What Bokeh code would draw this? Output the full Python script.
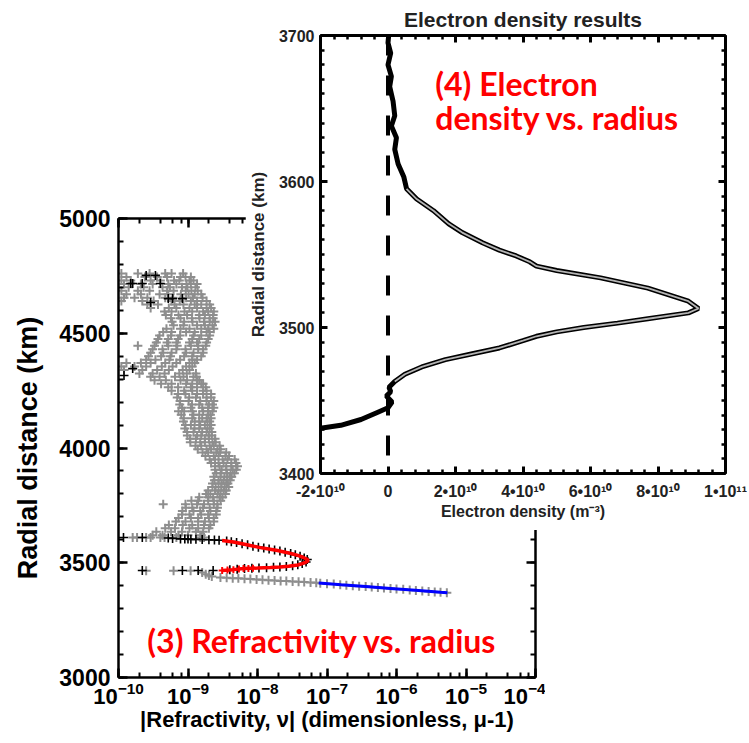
from bokeh.plotting import figure
from bokeh.models import (Range1d, LogAxis, LinearAxis, Label, Span, GridBox,
                          SingleIntervalTicker, LogTicker, CustomJSTickFormatter)
from bokeh.embed import file_html
from bokeh.resources import INLINE

# ---------------- panel (3): |refractivity| vs radius ----------------
# gray "+" cloud : rows of radius (km) and |nu| values (in units of 1e-9)
gray_levels_km = [4760, 4745, 4730, 4715, 4700, 4685, 4670, 4655, 4640, 4625,
                  4610, 4595, 4580, 4565, 4550, 4535, 4520, 4505, 4490, 4475,
                  4460, 4445, 4430, 4415, 4400, 4385, 4370, 4355, 4340, 4325,
                  4310, 4295, 4280, 4265, 4250, 4235, 4220, 4205, 4190, 4175,
                  4160, 4145, 4130, 4115, 4100, 4085, 4070, 4055, 4040, 4025,
                  4010, 3995, 3980, 3965, 3950, 3935, 3920, 3905, 3890, 3875,
                  3860, 3845, 3830, 3815, 3800, 3785, 3770, 3755, 3740, 3725,
                  3710, 3695, 3680, 3665, 3650, 3635, 3620, 3610]
gray_nu_e9 = [
    [0.11, 0.19, 0.28, 0.47, 0.58, 0.85],
    [0.13, 0.24, 0.36, 0.5, 0.78, 0.92, 1.1],
    [0.11, 0.15, 0.29, 0.4, 0.63, 0.75, 1.05, 1.2],
    [0.12, 0.21, 0.31, 0.52, 0.68, 0.95, 1.1, 1.35],
    [0.14, 0.23, 0.43, 0.55, 0.82, 0.98, 1.28],
    [0.11, 0.19, 0.28, 0.5, 0.62, 0.93, 1.12, 1.38],
    [0.13, 0.21, 0.39, 0.52, 0.79, 1.02, 1.25, 1.55],
    [0.12, 0.17, 0.26, 0.47, 0.61, 0.94, 1.18, 1.62],
    [0.11, 0.22, 0.32, 0.58, 0.76, 1.1, 1.35, 1.85],
    [0.26, 0.37, 0.64, 0.86, 1.25, 1.55, 2.05],
    [0.29, 0.53, 0.68, 1.05, 1.35, 1.85, 2.15],
    [0.46, 0.58, 0.89, 1.15, 1.65, 1.95, 2.35],
    [0.48, 0.73, 0.97, 1.45, 1.75, 2.3],
    [0.57, 0.78, 1.14, 1.46, 2.05, 2.3],
    [0.59, 0.88, 1.16, 1.7, 2.05, 2.45],
    [0.62, 0.86, 1.35, 1.75, 2.25],
    [0.49, 0.78, 1.05, 1.55, 1.95, 2.35],
    [0.44, 0.58, 0.94, 1.25, 1.85, 2.05],
    [0.39, 0.57, 0.77, 1.2, 1.55, 2.05],
    [0.37, 0.52, 0.72, 1.15, 1.45, 1.95],
    [0.35, 0.5, 0.68, 1.05, 1.35, 1.85],
    [0.19, 0.33, 0.52, 0.7, 1.1, 1.4, 1.8],
    [0.31, 0.43, 0.68, 0.92, 1.4, 1.65],
    [0.29, 0.44, 0.58, 0.94, 1.2, 1.65],
    [0.27, 0.41, 0.56, 0.88, 1.15, 1.55],
    [0.25, 0.34, 0.54, 0.77, 1.15, 1.35],
    [0.13, 0.21, 0.29, 0.47, 0.68, 1.05, 1.25],
    [0.11, 0.17, 0.25, 0.42, 0.6, 0.94, 1.15],
    [0.12, 0.22, 0.36, 0.53, 0.84, 1.05],
    [0.2, 0.31, 0.46, 0.75, 0.96, 1.3],
    [0.29, 0.39, 0.65, 0.86, 1.2, 1.32],
    [0.33, 0.48, 0.78, 0.97, 1.35, 1.45],
    [0.41, 0.58, 0.94, 1.15, 1.55, 1.65],
    [0.52, 0.72, 1.1, 1.35, 1.8],
    [0.58, 0.88, 1.15, 1.65, 1.85],
    [0.72, 0.92, 1.35, 1.65, 2.15],
    [0.7, 1.04, 1.3, 1.85, 2.15],
    [0.77, 1.02, 1.5, 1.85, 2.35],
    [0.76, 1.14, 1.45, 2.0, 2.25],
    [0.82, 1.1, 1.6, 1.95, 2.35],
    [0.73, 0.88, 1.16, 1.65, 1.95, 2.25],
    [0.8, 1.2, 1.45, 1.95, 2.1],
    [0.87, 1.15, 1.6, 1.85, 2.15],
    [0.86, 1.25, 1.45, 1.9, 2.05],
    [0.92, 1.1, 1.5, 1.75, 2.15],
    [0.9, 1.24, 1.45, 1.9, 2.05],
    [0.97, 1.2, 1.6, 1.85, 2.2],
    [0.98, 1.35, 1.55, 2.0, 2.2],
    [1.07, 1.3, 1.75, 2.0, 2.45],
    [1.08, 1.5, 1.75, 2.25, 2.5],
    [1.28, 1.55, 2.05, 2.35, 2.85],
    [1.38, 1.85, 2.15, 2.65, 2.95],
    [1.62, 1.95, 2.55, 2.9, 3.55],
    [1.78, 2.35, 2.75, 3.45, 3.9],
    [2.05, 2.45, 3.15, 3.7, 4.7],
    [2.15, 2.75, 3.25, 4.2, 4.9],
    [2.45, 2.85, 3.55, 4.2, 5.15],
    [2.45, 3.05, 3.55, 4.4, 4.95],
    [2.55, 2.95, 3.65, 4.1, 4.65],
    [2.35, 2.95, 3.35, 3.95, 4.25],
    [2.4, 2.75, 3.25, 3.65, 4.05],
    [2.25, 2.75, 3.05, 3.55, 3.75],
    [2.25, 2.5, 3.0, 3.35, 3.85],
    [1.95, 2.45, 2.75, 3.25, 3.55],
    [1.82, 2.1, 2.65, 2.95, 3.45],
    [1.45, 1.95, 2.3, 2.85, 3.15],
    [1.12, 1.4, 1.95, 2.35, 2.95],
    [0.44, 0.92, 1.35, 1.7, 2.35, 2.65],
    [0.93, 1.15, 1.65, 2.05, 2.65],
    [0.83, 1.2, 1.5, 2.1, 2.55],
    [0.82, 1.05, 1.55, 1.95, 2.55],
    [0.73, 1.1, 1.4, 2.0, 2.35],
    [0.67, 0.92, 1.4, 1.75, 2.35],
    [0.53, 0.84, 1.15, 1.7, 2.1],
    [0.47, 0.65, 1.05, 1.4, 2.0],
    [0.35, 0.57, 0.82, 1.3, 1.65],
    [0.31, 0.43, 0.73, 1.0, 1.55],
    [0.16, 0.185, 0.25, 0.29, 0.40, 0.46, 0.68, 1.5, 1.7],
]
# gray "+" points on the low, flat branch (below the peak) and under the blue segment
gray_low_nu_e9 = [0.25, 0.62, 1.09, 1.6, 1.8, 2.0, 2.2,
                  2.93, 3.6, 4.4, 5.3, 6.5, 7.9, 9.7, 11.8, 14.4, 17.6, 21.5, 26, 32, 39, 47, 58, 70,
                  80, 100, 125, 155, 190, 235, 290, 360, 440, 540, 660, 820, 1000, 1250, 1550,
                  1900, 2350, 2900, 3550, 4300, 5300]
gray_low_km = [3465, 3465, 3465, 3458, 3450, 3444, 3440,
               3436, 3435, 3433, 3432, 3430, 3429, 3427, 3426, 3424, 3423, 3421, 3420, 3418, 3417, 3416, 3414, 3413,
               3411, 3409, 3407, 3404, 3402, 3400, 3398, 3396, 3394, 3392, 3390, 3388, 3386, 3384, 3381,
               3379, 3377, 3375, 3373, 3371, 3369]
# black "+" points
black_nu_e9 = [0.15, 0.16, 0.22, 0.25, 0.34, 0.40, 0.52, 0.60, 0.83, 0.29, 0.16, 0.12,
               0.118, 0.22, 0.52, 0.6, 0.78, 0.9, 1.0, 1.1, 1.3, 1.6, 2.0, 2.4, 2.8,
               0.22, 0.83, 1.4, 2.3,
               3.6, 4.2, 5.0, 6.0, 7.2, 8.6, 10.3, 12.3, 14.7, 17.6, 21, 25, 30, 35, 41, 47, 52,
               50, 44, 38, 32, 26, 21, 17, 13.5, 10.5, 8.3, 6.5, 5.1, 4.0]
black_km = [4717, 4717, 4717, 4752, 4752, 4717, 4651, 4651, 4651, 4634, 4346, 4316,
            3610, 3610, 3608, 3606, 3604, 3604, 3603, 3602, 3602, 3601, 3600, 3599, 3598,
            3466, 3466, 3466, 3466,
            3595, 3592, 3588, 3583, 3578, 3572, 3568, 3564, 3560, 3556, 3551, 3546, 3540, 3535, 3528, 3521, 3514,
            3503, 3497, 3491, 3487, 3484, 3481, 3480, 3478, 3477, 3476, 3475, 3472, 3469]
# red fitted curve around the peak
red_nu_e9 = [3.1, 4.5, 6.0, 7.9, 11, 14.5, 19.4, 26, 32, 38, 45, 51, 54,
             50, 44, 38, 28, 21, 15.4, 10, 6.3, 4.5, 3.1]
red_km = [3597, 3590, 3583, 3575, 3566, 3560, 3553, 3545, 3538, 3532, 3524, 3516, 3510,
          3503, 3496, 3490, 3485, 3481, 3479, 3477, 3475, 3470, 3466]
red_pts_nu_e9 = [3.1, 3.7, 4.5, 5.4, 6.3, 7.4, 8.6]
red_pts_km = [3466, 3468, 3470, 3473, 3475, 3475, 3476]
# blue fitted segment (ionosphere bottom)
blue_nu_e9 = [76, 160, 360, 820, 1870, 4300, 5400]
blue_km = [3412, 3404, 3396, 3388, 3380, 3371, 3369]

# ---------------- panel (4): electron density vs radius ----------------
ne_m3 = [-2.0e10, -1.4e10, -0.8e10, -0.3e10, 0.0, 0.12e10, -0.05e10, 0.08e10, 0.03e10,
         0.2e10, 0.5e10, 1.0e10, 1.7e10, 2.5e10, 3.3e10, 4.0e10, 4.4e10, 5.0e10, 5.8e10,
         6.8e10, 7.7e10, 8.9e10, 9.2e10, 8.9e10, 7.7e10, 6.3e10, 5.0e10, 4.4e10, 4.2e10,
         3.8e10, 3.3e10, 2.8e10, 2.2e10, 1.8e10, 1.35e10, 0.85e10, 0.55e10, 0.47e10, 0.3e10,
         0.2e10, 0.25e10, 0.1e10, 0.2e10, 0.15e10, 0.05e10, 0.1e10, 0.0, 0.08e10, 0.0, 0.02e10]
ne_km = [3431, 3433, 3437, 3442, 3445, 3449, 3453, 3456, 3459,
         3463, 3468, 3473, 3478, 3482, 3486, 3491, 3494, 3497, 3500,
         3503, 3506, 3510, 3513, 3518, 3527, 3534, 3539, 3542, 3545,
         3549, 3553, 3558, 3565, 3571, 3580, 3588, 3595, 3603, 3612,
         3622, 3630, 3638, 3645, 3655, 3665, 3672, 3680, 3688, 3695, 3700]
ne_ticks = [-2e10, 0, 2e10, 4e10, 6e10, 8e10, 1e11]
ne_tick_labels = ["-2•10¹⁰", "0", "2•10¹⁰", "4•10¹⁰", "6•10¹⁰", "8•10¹⁰", "1•10¹¹"]

AX_FONT = "Liberation Sans"
RED_FONT = "Lato"
BLANK = CustomJSTickFormatter(code="return ''")


def style_axis(ax, lw, tick_in, minor_in, size, label_size=None):
    ax.axis_line_width = lw
    ax.major_tick_line_width = lw
    ax.minor_tick_line_width = max(lw - 0.5, 1)
    ax.major_tick_in = tick_in
    ax.major_tick_out = 0
    ax.minor_tick_in = minor_in
    ax.minor_tick_out = 0
    ax.major_label_text_font = AX_FONT
    ax.major_label_text_font_style = "bold"
    ax.major_label_text_font_size = size
    ax.major_label_text_color = "black"
    ax.axis_label_text_font = AX_FONT
    ax.axis_label_text_font_style = "bold"
    ax.axis_label_text_color = "black"
    if label_size:
        ax.axis_label_text_font_size = label_size


# ---------- back figure (3) ----------
p = figure(width=545, height=537, x_axis_type="log",
           x_range=Range1d(1e-10, 1e-4), y_range=Range1d(3000, 5000),
           output_backend="svg", toolbar_location=None,
           min_border_left=118, min_border_right=10, min_border_top=13, min_border_bottom=65)
p.xgrid.visible = False
p.ygrid.visible = False
p.outline_line_color = None
p.xaxis.ticker = LogTicker(desired_num_ticks=7)
p.yaxis.ticker = SingleIntervalTicker(interval=500, num_minor_ticks=5)
style_axis(p.xaxis[0], 2.5, 9, 5, "22px", "22px")
style_axis(p.yaxis[0], 2.5, 9, 5, "23px", "27px")
p.xaxis.major_label_standoff = 4
p.yaxis.major_label_standoff = 8
p.xaxis.axis_label = "|Refractivity, ν| (dimensionless, μ-1)"
p.yaxis.axis_label = "Radial distance (km)"
p.xaxis.axis_label_standoff = 0
p.yaxis.axis_label_standoff = 13
top = LogAxis(ticker=LogTicker(desired_num_ticks=7), formatter=BLANK)
style_axis(top, 2.5, 9, 5, "10px")
top.major_label_standoff = 0
p.add_layout(top, "above")
rgt = LinearAxis(ticker=SingleIntervalTicker(interval=500, num_minor_ticks=5), formatter=BLANK)
style_axis(rgt, 2.5, 9, 5, "10px")
rgt.major_label_standoff = 0
p.add_layout(rgt, "right")

gx, gy = [], []
for lev, row in zip(gray_levels_km, gray_nu_e9):
    for v in row:
        gx.append(v * 1e-9)
        gy.append(lev)
p.scatter(gx, gy, marker="cross", size=9, line_color="#8e8e8e", line_width=2)
p.scatter([v * 1e-9 for v in gray_low_nu_e9], gray_low_km, marker="cross", size=9,
          line_color="#8e8e8e", line_width=2)
p.scatter([v * 1e-9 for v in black_nu_e9], black_km, marker="cross", size=9,
          line_color="black", line_width=1.6)
p.line([v * 1e-9 for v in red_nu_e9], red_km, line_color="red", line_width=3.5)
p.scatter([v * 1e-9 for v in red_pts_nu_e9], red_pts_km, marker="cross", size=7,
          line_color="red", line_width=2)
p.line([v * 1e-9 for v in blue_nu_e9], blue_km, line_color="blue", line_width=3)

p.add_layout(Label(x=2.6e-10, y=3161, text="(3) Refractivity vs. radius",
                   text_font=RED_FONT, text_font_style="bold", text_font_size="32px",
                   text_color="red", text_baseline="middle"))

# ---------- inset figure (4) ----------
q = figure(width=503, height=530, x_range=Range1d(-2e10, 1e11), y_range=Range1d(3400, 3700),
           output_backend="svg", toolbar_location=None,
           min_border_left=73, min_border_right=23, min_border_top=33, min_border_bottom=57,
           title="Electron density results")
q.title.align = "center"
q.title.text_font = AX_FONT
q.title.text_font_style = "bold"
q.title.text_font_size = "21px"
q.title.text_color = "#222222"
q.xgrid.visible = False
q.ygrid.visible = False
q.outline_line_color = None
q.xaxis.ticker = SingleIntervalTicker(interval=2e10, num_minor_ticks=5)
q.xaxis.formatter = CustomJSTickFormatter(
    args=dict(vals=ne_ticks, labs=ne_tick_labels),
    code="const i = vals.findIndex(v => Math.abs(v - tick) < 1e6); return i >= 0 ? labs[i] : '';")
q.yaxis.ticker = SingleIntervalTicker(interval=100, num_minor_ticks=10)
style_axis(q.xaxis[0], 3, 7, 4, "16px", "16px")
style_axis(q.yaxis[0], 3, 7, 4, "16px", "17px")
q.xaxis.major_label_text_color = "#222222"
q.yaxis.major_label_text_color = "#222222"
q.xaxis.axis_label_text_color = "#222222"
q.yaxis.axis_label_text_color = "#222222"
q.xaxis.axis_label = "Electron density (m⁻³)"
q.yaxis.axis_label = "Radial distance (km)"
q.xaxis.major_label_standoff = 9
q.yaxis.major_label_standoff = 6
q.xaxis.axis_label_standoff = 0
q.yaxis.axis_label_standoff = 8
qtop = LinearAxis(ticker=SingleIntervalTicker(interval=2e10, num_minor_ticks=5), formatter=BLANK)
style_axis(qtop, 3, 7, 4, "10px")
qtop.major_label_standoff = 0
q.add_layout(qtop, "above")
qr = LinearAxis(ticker=SingleIntervalTicker(interval=100, num_minor_ticks=10), formatter=BLANK)
style_axis(qr, 3, 7, 4, "10px")
qr.major_label_standoff = 0
q.add_layout(qr, "right")

q.add_layout(Span(location=0, dimension="height", line_color="black", line_width=4,
                  line_dash="20 20"))
q.line(ne_m3, ne_km, line_color="black", line_width=5)
q.line(ne_m3[9:37], ne_km[9:37], line_color="#b4b4b4", line_width=1.8)

q.add_layout(Label(x=1.4e10, y=3667, text="(4) Electron", text_font=RED_FONT,
                   text_font_style="bold", text_font_size="32px", text_color="red",
                   text_baseline="middle"))
q.add_layout(Label(x=1.4e10, y=3644, text="density vs. radius", text_font=RED_FONT,
                   text_font_style="bold", text_font_size="32px", text_color="red",
                   text_baseline="middle"))

grid = GridBox(children=[(p, 1, 0, 2, 2), (q, 0, 1, 2, 2)],
               rows=["205px", "325px", "212px"], cols=["245px", "300px", "203px"])

open("out.html", "w").write(file_html(grid, INLINE))
